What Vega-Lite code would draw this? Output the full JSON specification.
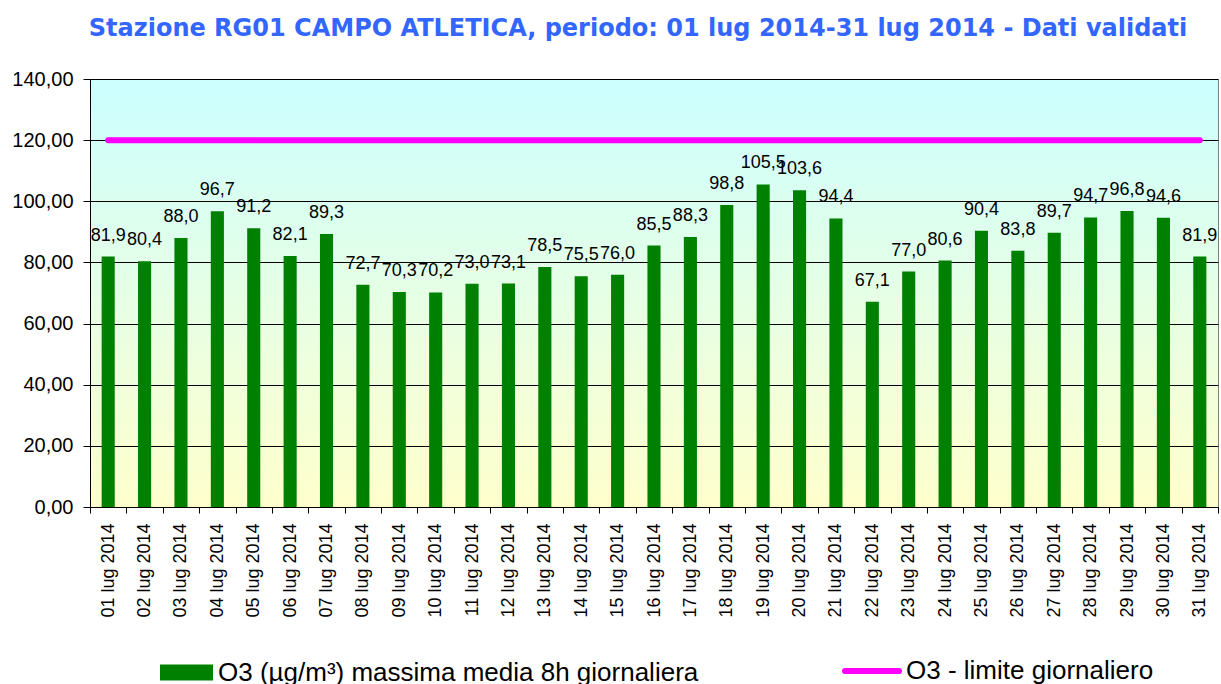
{
  "$schema": "https://vega.github.io/schema/vega-lite/v6.json",
  "autosize": "none",
  "width": 1128,
  "height": 428,
  "padding": {"left": 90, "top": 79, "right": 3, "bottom": 177},
  "background": "white",
  "title": {
    "text": "Stazione RG01 CAMPO ATLETICA, periodo: 01 lug 2014-31 lug 2014 - Dati validati",
    "font": "DejaVu Sans",
    "fontSize": 24,
    "fontWeight": "bold",
    "color": "#3366FF",
    "anchor": "middle",
    "offset": 28,
    "dx": -16
  },
  "config": {
    "locale": {"number": {"decimal": ",", "thousands": ".", "grouping": [3], "currency": ["€", ""]}},
    "view": {
      "fill": {"gradient": "linear", "x1": 0, "y1": 0, "x2": 0, "y2": 1,
        "stops": [{"offset": 0, "color": "#CCFFFF"}, {"offset": 1, "color": "#FFFFCC"}]},
      "stroke": "#808080",
      "strokeWidth": 1
    },
    "font": "Liberation Sans"
  },
  "data": {
    "values": [
      {"giorno": "01 lug 2014", "o3": 81.9, "limite": 120},
      {"giorno": "02 lug 2014", "o3": 80.4, "limite": 120},
      {"giorno": "03 lug 2014", "o3": 88.0, "limite": 120},
      {"giorno": "04 lug 2014", "o3": 96.7, "limite": 120},
      {"giorno": "05 lug 2014", "o3": 91.2, "limite": 120},
      {"giorno": "06 lug 2014", "o3": 82.1, "limite": 120},
      {"giorno": "07 lug 2014", "o3": 89.3, "limite": 120},
      {"giorno": "08 lug 2014", "o3": 72.7, "limite": 120},
      {"giorno": "09 lug 2014", "o3": 70.3, "limite": 120},
      {"giorno": "10 lug 2014", "o3": 70.2, "limite": 120},
      {"giorno": "11 lug 2014", "o3": 73.0, "limite": 120},
      {"giorno": "12 lug 2014", "o3": 73.1, "limite": 120},
      {"giorno": "13 lug 2014", "o3": 78.5, "limite": 120},
      {"giorno": "14 lug 2014", "o3": 75.5, "limite": 120},
      {"giorno": "15 lug 2014", "o3": 76.0, "limite": 120},
      {"giorno": "16 lug 2014", "o3": 85.5, "limite": 120},
      {"giorno": "17 lug 2014", "o3": 88.3, "limite": 120},
      {"giorno": "18 lug 2014", "o3": 98.8, "limite": 120},
      {"giorno": "19 lug 2014", "o3": 105.5, "limite": 120},
      {"giorno": "20 lug 2014", "o3": 103.6, "limite": 120},
      {"giorno": "21 lug 2014", "o3": 94.4, "limite": 120},
      {"giorno": "22 lug 2014", "o3": 67.1, "limite": 120},
      {"giorno": "23 lug 2014", "o3": 77.0, "limite": 120},
      {"giorno": "24 lug 2014", "o3": 80.6, "limite": 120},
      {"giorno": "25 lug 2014", "o3": 90.4, "limite": 120},
      {"giorno": "26 lug 2014", "o3": 83.8, "limite": 120},
      {"giorno": "27 lug 2014", "o3": 89.7, "limite": 120},
      {"giorno": "28 lug 2014", "o3": 94.7, "limite": 120},
      {"giorno": "29 lug 2014", "o3": 96.8, "limite": 120},
      {"giorno": "30 lug 2014", "o3": 94.6, "limite": 120},
      {"giorno": "31 lug 2014", "o3": 81.9, "limite": 120}
    ]
  },
  "encoding": {
    "x": {
      "field": "giorno", "type": "ordinal", "sort": null,
      "scale": {"paddingInner": 0, "paddingOuter": 0},
      "axis": {
        "title": null, "labelAngle": -90, "labelFontSize": 18, "labelColor": "black",
        "labelFont": "Liberation Sans", "labelPadding": 10,
        "domainColor": "black", "tickColor": "black", "tickSize": 6, "tickBand": "extent",
        "grid": false
      }
    }
  },
  "layer": [
    {
      "mark": {"type": "bar", "color": "#008000", "width": {"band": 0.36}},
      "encoding": {
        "y": {
          "field": "o3", "type": "quantitative",
          "scale": {"domain": [0, 140], "nice": false},
          "axis": {
            "title": null, "values": [0, 20, 40, 60, 80, 100, 120, 140], "format": ".2f",
            "labelFontSize": 20, "labelColor": "black", "labelFont": "Liberation Sans",
            "domainColor": "black", "tickColor": "black", "tickSize": 7,
            "gridColor": "black", "gridWidth": 1, "gridOpacity": 1, "labelPadding": 10
          }
        },
        "fill": {
          "datum": "O3 (µg/m³) massima media 8h giornaliera",
          "scale": {"range": ["#008000"]},
          "legend": {
            "title": null, "orient": "none", "legendX": 70, "legendY": 567,
            "symbolType": "M-1,-0.3H1V0.3H-1Z", "symbolSize": 2809, "symbolStrokeWidth": 0,
            "symbolOpacity": 1, "labelLimit": 0,
            "labelFontSize": 26, "labelFont": "Liberation Sans", "labelColor": "black",
            "labelOffset": 5, "padding": 0
          }
        }
      }
    },
    {
      "mark": {"type": "line", "strokeWidth": 6, "strokeCap": "round"},
      "encoding": {
        "y": {"field": "limite", "type": "quantitative"},
        "stroke": {
          "datum": "O3 - limite giornaliero",
          "scale": {"range": ["#FF00FF"]},
          "legend": {
            "title": null, "orient": "none", "legendX": 752, "legendY": 562,
            "symbolType": "stroke", "symbolSize": 2916, "symbolStrokeWidth": 6, "labelLimit": 0,
            "labelFontSize": 26, "labelFont": "Liberation Sans", "labelColor": "black",
            "labelOffset": 4, "padding": 0,
            "encode": {"symbols": {"update": {"strokeCap": {"value": "round"}}}}
          }
        }
      }
    },
    {
      "mark": {"type": "text", "fontSize": 18, "font": "Liberation Sans", "color": "black", "baseline": "alphabetic", "dy": -16},
      "encoding": {
        "y": {"field": "o3", "type": "quantitative"},
        "text": {"field": "o3", "type": "quantitative", "format": ".1f"}
      }
    }
  ]
}
